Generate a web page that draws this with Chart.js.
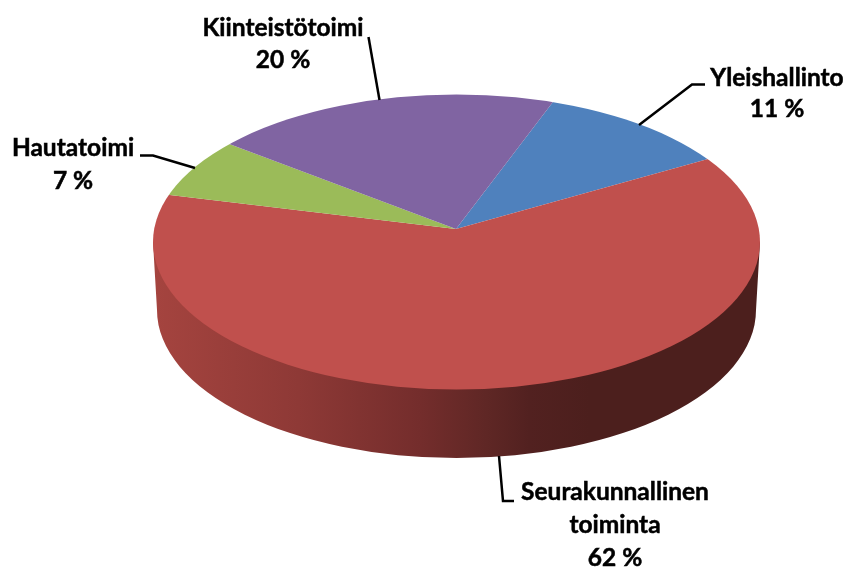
<!DOCTYPE html>
<html>
<head>
<meta charset="utf-8">
<style>
  html, body { margin: 0; padding: 0; background: #fff; }
  #wrap { width: 848px; height: 569px; }
</style>
<script src="https://cdn.jsdelivr.net/npm/chart.js@4/dist/chart.umd.min.js"></script>
</head>
<body>
<div id="wrap"><canvas id="pie"></canvas></div>
<script>
const categories = ['Yleishallinto', 'Seurakunnallinen toiminta', 'Hautatoimi', 'Kiinteistötoimi'];
// read from the slice edges, labels show them rounded
const shares = [11.1, 62, 6.6, 20.3];
const sliceColors = ['#4f81bd', '#c0504d', '#9bbb59', '#8064a2'];

// Tilt of the pie: Chart.js draws a circle, the plugin squashes and clips it
const tiltY = 0.49;
const face = { x: 456.5, y: 242, rx: 303.5, ry: 147.5 };
const base = { x: 456.5, y: 310, rx: 299.5, ry: 148 };

// Callouts: text lines with baselines, then the leader polyline
const callouts = [
  { index: 3, x: 283, lines: [36, 68], lead: [[368.5, 37], [379.5, 100]] },
  { index: 0, x: 777, lines: [86, 117], lead: [[705, 84.5], [692, 84.5], [639, 125]] },
  { index: 2, x: 73, lines: [156, 189], lead: [[140, 155.5], [153, 155.5], [195, 168]] },
  { index: 1, x: 615, lines: [500, 533, 566], lead: [[499, 456], [503, 501], [514, 501]] }
];

const tiltPlugin = {
  id: 'tilt',
  beforeDatasetsDraw(chart) {
    const ctx = chart.ctx;
    const arc = chart.getDatasetMeta(0).data[0];

    // Side wall under the face
    const wall = ctx.createLinearGradient(face.x - face.rx, 0, face.x + face.rx, 0);
    wall.addColorStop(0, '#a5443f');
    wall.addColorStop(0.24, '#8e3936');
    wall.addColorStop(0.44, '#742d2c');
    wall.addColorStop(0.55, '#5f2725');
    wall.addColorStop(0.62, '#522120');
    wall.addColorStop(0.72, '#4c1f1d');
    wall.addColorStop(1, '#4c1f1d');
    ctx.save();
    ctx.beginPath();
    ctx.moveTo(face.x - face.rx, face.y);
    ctx.lineTo(base.x - base.rx, base.y);
    ctx.ellipse(base.x, base.y, base.rx, base.ry, 0, Math.PI, 0, true);
    ctx.lineTo(face.x + face.rx, face.y);
    ctx.closePath();
    ctx.fillStyle = wall;
    ctx.fill();
    ctx.restore();

    // Face: slices get clipped to the ellipse, apex sits above its centre
    ctx.save();
    ctx.beginPath();
    ctx.ellipse(face.x, face.y, face.rx, face.ry, 0, 0, Math.PI * 2);
    ctx.clip();
    ctx.translate(arc.x, arc.y);
    ctx.scale(1, tiltY);
    ctx.translate(-arc.x, -arc.y);
  },
  afterDatasetsDraw(chart) {
    const ctx = chart.ctx;
    ctx.restore();

    ctx.save();
    ctx.strokeStyle = '#000';
    ctx.lineWidth = 2.5;
    ctx.lineJoin = 'miter';
    ctx.fillStyle = '#000';
    ctx.font = 'bold 24.5px Lato, sans-serif';
    ctx.textAlign = 'center';
    ctx.textBaseline = 'alphabetic';
    callouts.forEach(c => {
      ctx.lineWidth = 2.5;
      ctx.beginPath();
      c.lead.forEach((p, i) => (i ? ctx.lineTo(p[0], p[1]) : ctx.moveTo(p[0], p[1])));
      ctx.stroke();

      const words = categories[c.index] === 'Seurakunnallinen toiminta'
        ? categories[c.index].split(' ')
        : [categories[c.index]];
      const text = words.concat(Math.round(shares[c.index]) + ' %');
      ctx.lineWidth = 0.5; // Lato bold is a bit lighter than the original face
      text.forEach((t, i) => {
        ctx.fillText(t, c.x, c.lines[i]);
        ctx.strokeText(t, c.x, c.lines[i]);
      });
    });
    ctx.restore();
  }
};

new Chart(document.getElementById('pie'), {
  type: 'pie',
  data: {
    labels: categories,
    datasets: [{
      data: shares,
      backgroundColor: sliceColors,
      borderWidth: 0,
      radius: 330,
      clip: false
    }]
  },
  options: {
    responsive: true,
    maintainAspectRatio: false,
    animation: false,
    rotation: 20.5,
    layout: { padding: { left: 64, right: 0, top: 0, bottom: 111 } },
    plugins: { legend: { display: false }, tooltip: { enabled: false } }
  },
  plugins: [tiltPlugin]
});
</script>
</body>
</html>
